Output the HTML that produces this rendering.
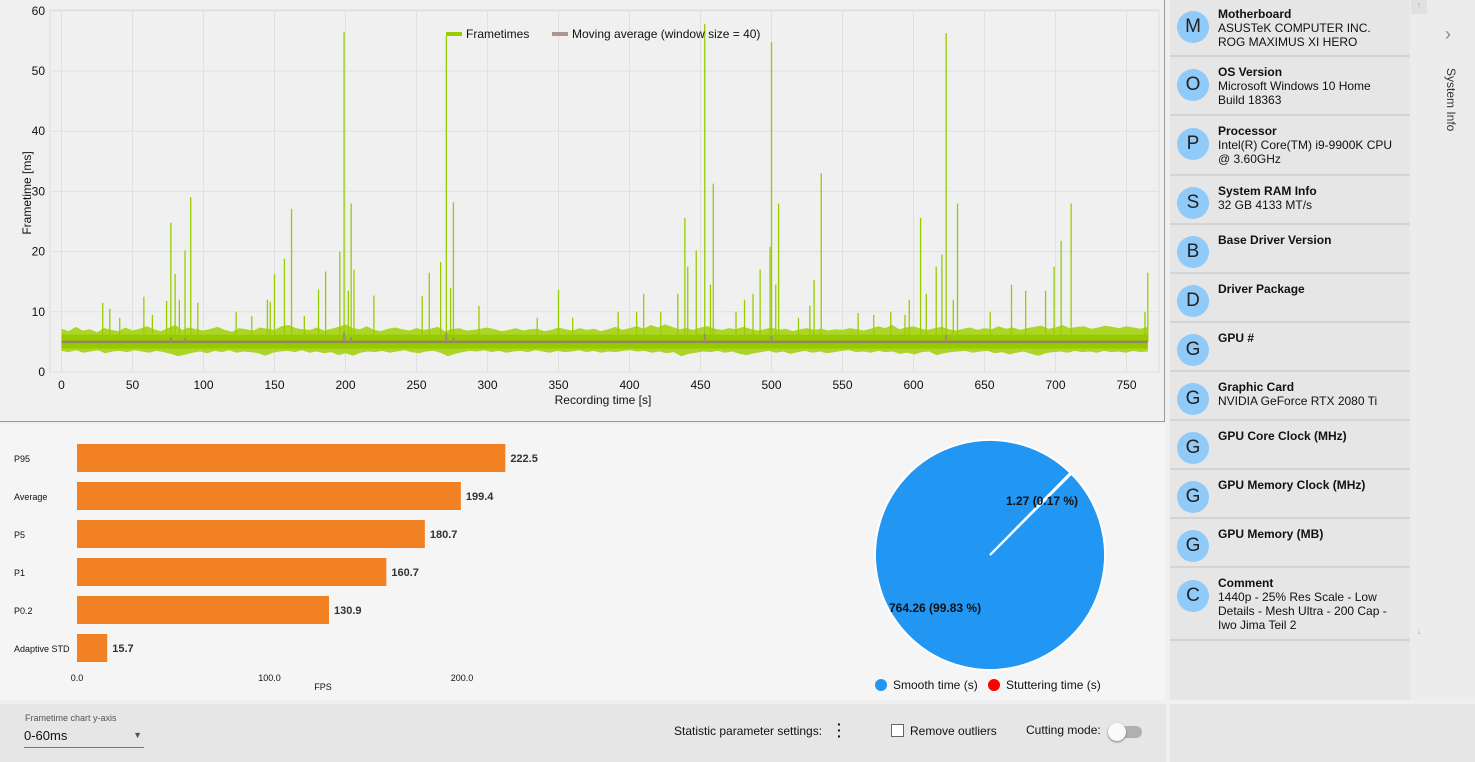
<!DOCTYPE html>
<html><head><meta charset="utf-8">
<style>
body{margin:0;width:1475px;height:762px;overflow:hidden;background:#f0f0f0;font-family:"Liberation Sans",sans-serif;position:relative}
.abs{position:absolute}
.item{position:absolute;left:1170px;width:240px;border-bottom:2px solid #d4d4d4}
.item .c{position:absolute;left:7px;width:32px;height:32px;border-radius:50%;background:#90caf9;color:#222;font-size:19px;text-align:center;line-height:32px}
.item .t{position:absolute;left:48px;font-size:12px;color:#111;line-height:14px;width:178px}
.item .t b{display:block}
</style></head><body>
<div class="abs" style="left:0;top:0;width:1164px;height:421px;background:#f0f0f0;border-right:1px solid #9a9a9a;border-bottom:1px solid #9a9a9a"></div>
<svg id="ft" class="abs" style="left:0;top:0" width="1165" height="422"></svg>
<div class="abs" style="left:0;top:424px;width:1165px;height:276px;background:#f5f5f5"></div>
<svg id="bar" class="abs" style="left:0;top:424px" width="700" height="276"></svg>
<svg id="pie" class="abs" style="left:860px;top:424px" width="300" height="276"></svg>

<div class="abs" style="left:1170px;top:0;width:240px;height:700px;background:#e6e6e6"></div>
<div class="abs" style="left:1410px;top:0;width:65px;height:700px;background:#ececec"></div>
<div class="abs" style="left:1411px;top:0;width:16px;height:14px;background:#e0e0e0;color:#aaa;font-size:9px;text-align:center">↑</div>
<div class="abs" style="left:1411px;top:626px;width:16px;height:14px;color:#aaa;font-size:9px;text-align:center">↓</div>
<div class="abs" style="left:1445px;top:24px;color:#888;font-size:18px">›</div>
<div class="abs" style="width:60px;font-size:12px;color:#333;transform:rotate(90deg);transform-origin:30px 8px;white-space:nowrap;left:1420px;top:90px">System Info</div>
<div id="items"></div>

<div class="abs" style="left:0;top:704px;width:1166px;height:58px;background:#e6e6e6"></div>
<div class="abs" style="left:1170px;top:704px;width:305px;height:58px;background:#e6e6e6"></div>
<div class="abs" style="left:25px;top:713px;font-size:9px;color:#555">Frametime chart y-axis</div>
<div class="abs" style="left:24px;top:728px;width:120px;height:19px;border-bottom:1px solid #777;font-size:13px;color:#111">0-60ms<span style="position:absolute;right:2px;top:2px;font-size:9px;color:#555">▼</span></div>
<div class="abs" style="left:674px;top:724px;font-size:12px;color:#111">Statistic parameter settings:</div>
<div class="abs" style="left:837px;top:721px;width:8px;height:20px;font-size:14px;line-height:6px;color:#111;font-weight:bold">·<br>·<br>·</div>
<div class="abs" style="left:891px;top:724px;width:11px;height:11px;border:1px solid #666;background:#fff"></div>
<div class="abs" style="left:910px;top:724px;font-size:12px;color:#111">Remove outliers</div>
<div class="abs" style="left:1026px;top:723px;font-size:12px;color:#111">Cutting mode:</div>
<div class="abs" style="left:1110px;top:726px;width:32px;height:12px;border-radius:6px;background:#b0b0b0"></div>
<div class="abs" style="left:1108px;top:723px;width:18px;height:18px;border-radius:50%;background:#fafafa;box-shadow:0 1px 2px #777"></div>

<script>
// ===== Frametime chart data =====
const ftUpper=[7.2,6.8,7.5,6.9,7.1,6.6,7.3,7.0,6.8,7.4,6.9,7.2,7.6,7.1,6.8,7.3,7.8,7.0,7.4,7.1,6.9,7.2,7.5,7.0,6.7,7.3,7.1,6.9,7.4,7.2,7.0,7.6,7.8,7.3,7.1,7.0,7.4,6.9,7.2,7.5,7.9,7.3,7.1,7.6,7.0,6.8,7.2,7.4,7.1,6.9,7.3,7.0,7.2,7.5,6.8,7.1,7.3,6.9,7.0,7.2,7.4,7.1,6.8,7.0,7.3,6.9,7.1,7.2,6.8,7.0,7.4,7.1,6.9,7.3,7.0,7.2,6.8,7.1,7.5,7.0,7.3,7.6,7.2,7.8,7.4,7.9,7.5,7.1,7.3,7.0,7.4,7.6,7.2,7.0,7.3,7.1,7.5,7.2,6.9,7.1,7.4,7.0,7.2,6.8,7.1,7.3,7.0,7.2,6.9,7.1,7.0,7.3,7.1,6.9,7.2,7.6,7.3,7.8,7.1,7.4,7.6,7.2,7.0,7.3,7.5,7.1,6.9,7.2,7.4,7.0,7.3,7.1,7.6,7.2,7.4,7.0,7.3,7.5,7.7,7.2,7.4,7.8,7.3,7.5,7.6,7.2,7.4,7.7,7.5,7.3,7.6,7.4,7.2,7.5];
const ftLower=[3.5,3.3,3.6,3.2,3.4,3.6,3.1,3.4,3.5,3.3,3.6,3.4,3.2,3.5,3.3,3.0,2.6,2.9,3.2,3.4,3.1,3.5,3.3,3.6,3.2,3.4,3.3,3.1,2.7,3.2,3.4,3.5,3.3,3.6,3.2,3.4,3.1,3.3,2.8,3.1,2.7,3.2,3.4,3.3,3.5,3.2,3.4,3.6,3.3,3.1,3.4,3.5,3.2,2.6,3.0,3.3,3.5,3.4,3.6,3.3,3.5,3.2,3.4,3.5,3.3,3.6,3.4,3.2,3.5,3.3,3.4,3.6,3.3,3.5,3.2,3.4,3.3,3.5,3.6,3.4,3.5,3.2,3.4,3.1,3.3,2.6,3.0,3.2,3.4,3.3,3.5,3.2,3.4,3.0,2.8,3.1,3.3,3.5,3.2,3.4,3.0,3.3,3.5,3.2,3.4,3.1,3.3,3.5,3.6,3.3,3.4,3.2,3.5,3.3,3.4,3.0,3.2,2.9,3.3,3.4,2.8,3.1,3.3,3.4,3.5,3.2,3.4,3.5,3.1,3.3,2.9,3.2,3.4,3.0,2.7,3.1,3.3,3.4,3.2,3.5,3.3,3.4,3.2,3.5,3.3,3.4,3.2,3.5,3.3,3.4];
const spikeTimes=[29,34,41,58,64,74,77,80,83,87,91,96,123,134,145,147,150,157,162,171,181,186,196,199,202,204,206,220,254,259,267,271,274,276,294,335,350,360,392,405,410,422,434,439,441,447,453,457,459,475,481,487,492,499,500,503,505,519,527,530,535,561,572,584,594,597,605,609,616,620,623,628,631,654,669,679,693,699,704,711,763,765];
const spikeValues=[11.5,10.5,9,12.5,9.5,11.8,24.8,16.3,12,20.2,29,11.5,10,9.3,12,11.7,16.2,18.8,27.1,9.3,13.7,16.7,20,56.5,13.5,28,17,12.7,12.6,16.5,18.3,55.8,14,28.2,11,9,13.6,9,10,10,13,10,13,25.6,17.5,20.2,57.8,14.5,31.3,10,12,13,17,20.8,54.8,14.5,28,9,11,15.3,33,9.8,9.5,10,9.5,12,25.6,13,17.5,19.5,56.3,12,28,10,14.5,13.5,13.5,17.5,21.8,28,10,16.5];
const maValue=5;
const maBumpTimes=[77,87,199,204,271,276,453,500,623];
const maBumpValues=[5.8,5.6,6.6,5.8,6.5,5.7,6.3,6.0,6.2];
const xTicks=[0,50,100,150,200,250,300,350,400,450,500,550,600,650,700,750];
const yTicks=[0,10,20,30,40,50,60];
const tMax=765;

// ===== Bar chart data =====
const barLabels=["P95","Average","P5","P1","P0.2","Adaptive STD"];
const barValues=[222.5,199.4,180.7,160.7,130.9,15.7];
const barTicks=[0,100,200];

// ===== Pie data =====
const pieLabels=["Smooth time (s)","Stuttering time (s)"];
const pieValues=[764.26,1.27];
const piePercents=[99.83,0.17];

const NS="http://www.w3.org/2000/svg";
function mk(parent,tag,attrs,text){const e=document.createElementNS(NS,tag);for(const k in attrs)e.setAttribute(k,attrs[k]);if(text!==undefined)e.textContent=text;parent.appendChild(e);return e;}

// ---- frametime chart ----
const ft=document.getElementById('ft');
const X=t=>61.5+t*1.42;
const Y=v=>372-v*6.02;
mk(ft,'rect',{x:50,y:10,width:1109,height:362,fill:'none',stroke:'#dcdcdc'});
xTicks.forEach(t=>{
  const l=mk(ft,'line',{x1:X(t),x2:X(t),y1:10,y2:372,stroke:'#e0e0e0'});
  
  const tx=mk(ft,'text',{x:X(t),y:389,'font-size':12,'text-anchor':'middle',fill:'#111'},t);
  
});
yTicks.forEach(v=>{
  const l=mk(ft,'line',{x1:50,x2:1159,y1:Y(v),y2:Y(v),stroke:'#e0e0e0'});
  
  const tx=mk(ft,'text',{x:45,y:Y(v)+4,'font-size':12,'text-anchor':'end',fill:'#111'},v);
  
});
const xt=mk(ft,'text',{x:603,y:404,'font-size':12,'text-anchor':'middle',fill:'#111'},'Recording time [s]');

const yt=mk(ft,'text',{x:0,y:0,'font-size':12,'text-anchor':'middle',fill:'#111',transform:'translate(31,193) rotate(-90)'},'Frametime [ms]');

// band
let pts=[];
const nu=ftUpper.length, nl=ftLower.length;
for(let i=0;i<nu;i++)pts.push(X(i*tMax/(nu-1)).toFixed(1)+','+Y(ftUpper[i]).toFixed(1));
for(let i=nl-1;i>=0;i--)pts.push(X(i*tMax/(nl-1)).toFixed(1)+','+Y(ftLower[i]).toFixed(1));
const band=mk(ft,'polygon',{points:pts.join(' '),fill:'#acd625'});

const core=mk(ft,'rect',{x:X(0),y:Y(6.2),width:X(tMax)-X(0),height:Y(3.9)-Y(6.2),fill:'#98c800'});

spikeTimes.forEach((t,i)=>{
  const s=mk(ft,'line',{x1:X(t),x2:X(t),y1:Y(5),y2:Y(spikeValues[i]),stroke:'#99cc00','stroke-width':1.3});
  
});
const ma=mk(ft,'line',{x1:X(0),x2:X(tMax),y1:Y(maValue),y2:Y(maValue),stroke:'#8f8a5a','stroke-width':2.5});

maBumpTimes.forEach((t,i)=>{
  const b=mk(ft,'line',{x1:X(t),x2:X(t),y1:Y(maValue),y2:Y(maBumpValues[i]),stroke:'#9e8a78','stroke-width':2});
  
});
// legend
const lg1=mk(ft,'rect',{x:446,y:32,width:16,height:4,fill:'#99cc00'});

const lt1=mk(ft,'text',{x:466,y:38,'font-size':12,fill:'#111'},'Frametimes');

const lg2=mk(ft,'rect',{x:552,y:32,width:16,height:4,fill:'#a89890'});

const lt2=mk(ft,'text',{x:572,y:38,'font-size':12,fill:'#111'},'Moving average (window size = 40)');


// ---- bar chart ----
const bar=document.getElementById('bar');
const BX=v=>77+v*1.925;
barLabels.forEach((lab,i)=>{
  const y0=20+i*38;
  const t=mk(bar,'text',{x:14,y:y0+18,'font-size':9,fill:'#111'},lab);
  
  const r=mk(bar,'rect',{x:BX(0),y:y0,width:BX(barValues[i])-BX(0),height:28,fill:'#f28123'});
  
  const v=mk(bar,'text',{x:BX(barValues[i])+5,y:y0+18,'font-size':11,'font-weight':'bold',fill:'#333'},barValues[i].toFixed(1));
  
});
barTicks.forEach(v=>{
  const t=mk(bar,'text',{x:BX(v),y:257,'font-size':9,'text-anchor':'middle',fill:'#111'},v.toFixed(1));
  
});
const fl=mk(bar,'text',{x:323,y:266,'font-size':9,'text-anchor':'middle',fill:'#111'},'FPS');


// ---- pie ----
const pie=document.getElementById('pie');
const cx=130,cy=131,R=115;
const total=pieValues[0]+pieValues[1];
const startA=45*Math.PI/180;
const colors=['#2196f3','#ff0000'];
let a=startA;
pieValues.forEach((v,i)=>{
  const sweep=v/total*2*Math.PI;
  const a2=a+sweep;
  const p1=[cx+R*Math.sin(a),cy-R*Math.cos(a)],p2=[cx+R*Math.sin(a2),cy-R*Math.cos(a2)];
  const s=mk(pie,'path',{d:`M${cx},${cy} L${p1} A${R},${R} 0 ${sweep>Math.PI?1:0} 1 ${p2} Z`,fill:colors[i],stroke:'#fff','stroke-width':2});
  
  a=a2;
});
const pl1=mk(pie,'text',{x:146,y:81,'font-size':12,'font-weight':'bold',fill:'#111'},pieValues[1]+' ('+piePercents[1]+' %)');

const pl2=mk(pie,'text',{x:29,y:188,'font-size':12,'font-weight':'bold',fill:'#111'},pieValues[0]+' ('+piePercents[0]+' %)');

const lx=[21,134];
pieLabels.forEach((lab,i)=>{
  const c=mk(pie,'circle',{cx:lx[i],cy:261,r:6,fill:colors[i]});
  
  const t=mk(pie,'text',{x:lx[i]+12,y:265,'font-size':12,fill:'#111'},lab);
  
});

// ---- sidebar items ----
const itemLetters=['M','O','P','S','B','D','G','G','G','G','G','C'];
const itemTitles=['Motherboard','OS Version','Processor','System RAM Info','Base Driver Version','Driver Package','GPU #','Graphic Card','GPU Core Clock (MHz)','GPU Memory Clock (MHz)','GPU Memory (MB)','Comment'];
const itemTexts=['ASUSTeK COMPUTER INC. ROG MAXIMUS XI HERO','Microsoft Windows 10 Home Build 18363','Intel(R) Core(TM) i9-9900K CPU @ 3.60GHz','32 GB 4133 MT/s','','','','NVIDIA GeForce RTX 2080 Ti','','','','1440p - 25% Res Scale - Low Details - Mesh Ultra - 200 Cap - Iwo Jima Teil 2'];
const itemTops=[0,58,117,177,226,275,324,373,422,471,520,569];
const itemBottoms=[57,116,176,225,274,323,372,421,470,519,568,641];
const host=document.getElementById('items');
itemTitles.forEach((ti,i)=>{
  const d=document.createElement('div');d.className='item';
  
  
  d.style.top=itemTops[i]+'px';d.style.height=(itemBottoms[i]-itemTops[i]-2)+'px';
  d.innerHTML=`<div class="c" style="top:${i==0||i==1||i==2||i==11?11:10}px">${itemLetters[i]}</div><div class="t" style="top:7px"><b>${ti}</b>${itemTexts[i]}</div>`;
  host.appendChild(d);
});
</script>
</body></html>
